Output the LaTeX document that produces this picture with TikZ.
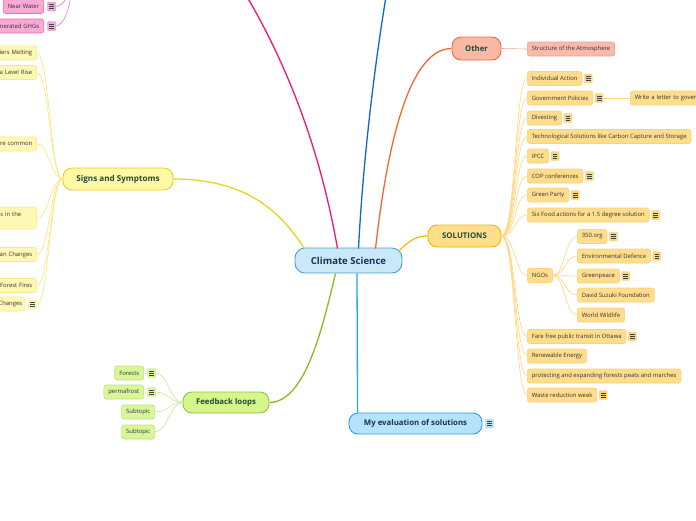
\documentclass[tikz,border=0pt]{standalone}
\usepackage{fontspec}
\setmainfont{Open Sans}
\usetikzlibrary{calc}
\definecolor{txt}{HTML}{333333}
\definecolor{navy}{HTML}{1B2F5C}
\definecolor{dgreen}{HTML}{1E4A3A}
\definecolor{cfill}{HTML}{C9E8F8}
\definecolor{cborder}{HTML}{4A9FD8}
\definecolor{yfill}{HTML}{FFF8A4}
\definecolor{yborder}{HTML}{E8D21A}
\definecolor{ycfill}{HTML}{FFF8B4}
\definecolor{ycborder}{HTML}{F6EA88}
\definecolor{yline}{HTML}{F6E878}
\definecolor{ofill}{HTML}{F9B8A4}
\definecolor{oborder}{HTML}{EE6A48}
\definecolor{ocfill}{HTML}{F8BAAA}
\definecolor{ocborder}{HTML}{F3A08E}
\definecolor{oline}{HTML}{F5A39A}
\definecolor{sfill}{HTML}{FFDF8C}
\definecolor{sborder}{HTML}{F6B500}
\definecolor{scfill}{HTML}{FEDD8C}
\definecolor{scborder}{HTML}{FBD27A}
\definecolor{sicon}{HTML}{FDD67A}
\definecolor{sline}{HTML}{FFD57E}
\definecolor{gfill}{HTML}{D6F68C}
\definecolor{gborder}{HTML}{8CC63E}
\definecolor{gcfill}{HTML}{D9F69A}
\definecolor{gcborder}{HTML}{BEE37C}
\definecolor{gline}{HTML}{C8E88E}
\definecolor{bfill}{HTML}{B4E3FA}
\definecolor{bborder}{HTML}{22A6E6}
\definecolor{pfill}{HTML}{F9A9D6}
\definecolor{pborder}{HTML}{F06AB4}
\definecolor{pline}{HTML}{F77DC2}
\definecolor{mpink}{HTML}{F0167C}
\definecolor{mblue}{HTML}{1366CC}
\definecolor{morange}{HTML}{F2692E}
\definecolor{myellow}{HTML}{EAD31E}
\definecolor{msol}{HTML}{F8BA1E}
\definecolor{mgreen}{HTML}{86BE1A}
\definecolor{mlblue}{HTML}{1EAAF0}
\begin{document}
\begin{tikzpicture}[x=1pt,y=-1pt,
  mainbox/.style n args={3}{draw=#2, fill=#1, text=#3, line width=0.9pt, inner sep=0pt,
     font=\bfseries\fontsize{7.8}{9}\selectfont},
  childbox/.style 2 args={draw=#2, fill=#1, text=txt, rounded corners=2.5pt, line width=0.6pt,
     minimum height=14pt, inner xsep=4.5pt, inner ysep=0pt, font=\fontsize{5.9}{7.4}\selectfont},
  sch/.style={childbox={scfill}{scborder}, anchor=west},
  ych/.style={childbox={ycfill}{ycborder}, anchor=east, align=right},
  gch/.style={childbox={gcfill}{gcborder}, anchor=east},
  pch/.style={childbox={pfill}{pborder}, anchor=east, align=right},
  icon/.style 2 args={draw=#2, fill=#1, minimum width=8pt, minimum height=9pt, inner sep=0pt,
     rounded corners=1pt, line width=0.4pt,
     path picture={\foreach \dy in {-2,0,2}{\draw[line width=0.5pt, black!75]
       ($(path picture bounding box.center)+(-2.3,\dy)$) -- ++(4.6,0);}}},
  sicn/.style={icon={sicon}{scborder}},
  yicn/.style={icon={ycfill}{ycborder}},
  gicn/.style={icon={gcfill}{gcborder}},
  picn/.style={icon={pfill}{pborder}},
  bicn/.style={icon={bfill}{bborder!50}},
  mline/.style={line width=1.3pt},
  cline/.style={line width=0.6pt}]
\useasboundingbox (0,0) rectangle (696,520);
\fill[white] (0,0) rectangle (696,520);

% ---------- main nodes ----------
\node[mainbox={cfill}{cborder}{navy}, minimum width=107pt, minimum height=25pt, rounded corners=10pt,
  font=\bfseries\fontsize{9.6}{11}\selectfont] (cs) at (348.5,260.5) {Climate Science};
\node[mainbox={yfill}{yborder}{dgreen}, minimum width=110pt, minimum height=22pt, rounded corners=9pt,
  font=\bfseries\fontsize{8.1}{10}\selectfont] (ss) at (118,179) {Signs and Symptoms};
\node[mainbox={ofill}{oborder}{dgreen}, minimum width=49pt, minimum height=23pt, rounded corners=9pt] (oth) at (476.5,48.5) {Other};
\node[mainbox={sfill}{sborder}{dgreen}, minimum width=73pt, minimum height=22pt, rounded corners=9pt] (sol) at (464.5,236) {SOLUTIONS};
\node[mainbox={gfill}{gborder}{dgreen}, minimum width=86pt, minimum height=21pt, rounded corners=9pt] (fb) at (226,402.5) {Feedback loops};
\node[mainbox={bfill}{bborder}{navy}, minimum width=133pt, minimum height=21pt, rounded corners=9pt] (me) at (415.5,423.5) {My evaluation of solutions};
\node[bicn] (mei) at ($(me.east)+(7,0)$) {};

% ---------- main branches ----------
\coordinate (ptop) at (240,-15);
\coordinate (btop) at (388,-15);
\draw[mline, mpink] ($(cs.north)+(-11,1)$) .. controls (322,160) and (292,70) .. (ptop);
\draw[mline, mblue] ($(cs.north)+(10,1)$) .. controls (363,160) and (375,60) .. (btop);
\draw[mline, morange] ($(cs.north)+(27,1)$) .. controls (390,120) and (415,48.5) .. (oth.west);
\draw[mline, msol] ($(cs.east)+(-4,-9)$) .. controls (410,240) and (416,236) .. (sol.west);
\draw[mline, myellow] (ss.east) .. controls (255,179) and (285,220) .. ($(cs.north west)+(10,1)$);
\draw[mline, mgreen] ($(cs.south)+(-13,0)$) .. controls (322,330) and (305,402) .. (fb.east);
\draw[mline, mlblue] ($(cs.south)+(8.5,0)$) -- ($(me.north west)+(9,0)$);

% ---------- Other ----------
\node[childbox={ocfill}{ocborder}, anchor=west] (st) at (527,49) {Structure of the Atmosphere};
\draw[cline, oline] (oth.east) -- (st.west);

% ---------- SOLUTIONS children ----------
\node[sch] (ia) at (527,78.5) {Individual Action};
\node[sicn] (iai) at ($(ia.east)+(6,0)$) {};
\node[sch] (gp) at (527,98) {Government Policies};
\node[sicn] (gpi) at ($(gp.east)+(6,0)$) {};
\node[childbox={scfill}{scborder}, anchor=west, text width=64pt, align=left] (wl) at (630,98) {Write a letter to gover};
\node[sch] (dv) at (527,118) {Divesting};
\node[sicn] (dvi) at ($(dv.east)+(6,0)$) {};
\node[sch] (ts) at (527,136.5) {Technological Solutions like Carbon Capture and Storage};
\node[sch] (ip) at (527,156) {IPCC};
\node[sicn] (ipi) at ($(ip.east)+(6,0)$) {};
\node[sch] (cop) at (527,176) {COP conferences};
\node[sicn] (copi) at ($(cop.east)+(6,0)$) {};
\node[sch] (gpa) at (527,195) {Green Party};
\node[sicn] (gpai) at ($(gpa.east)+(6,0)$) {};
\node[sch] (sf) at (527,215) {Six Food actions for a 1.5 degree solution};
\node[sicn] (sfi) at ($(sf.east)+(6,0)$) {};
\node[sch] (ngo) at (527,275.5) {NGOs};
\node[sch] (ff) at (527,336.5) {Fare free public transit in Ottawa};
\node[sicn] (ffi) at ($(ff.east)+(6,0)$) {};
\node[sch] (re) at (527,356) {Renewable Energy};
\node[sch] (pe) at (527,376) {protecting and expanding forests peats and marches};
\node[sch] (wr) at (527,395) {Waste reduction week};
\node[sicn] (wri) at ($(wr.east)+(6,0)$) {};

\foreach \n in {ia,gp,dv,ts,ip,cop,gpa,sf,ngo,ff,re,pe,wr}{
  \draw[cline, sline] (sol.east) .. controls +(14,0) and +(-12,0) .. (\n.west);}
\draw[cline, sline] (gpi.east) -- (wl.west);

% NGO children
\node[sch] (n1) at (577,236.5) {350.org};
\node[sicn] (n1i) at ($(n1.east)+(6,0)$) {};
\node[sch] (n2) at (577,256) {Environmental Defence};
\node[sicn] (n2i) at ($(n2.east)+(6,0)$) {};
\node[sch] (n3) at (577,276) {Greenpeace};
\node[sicn] (n3i) at ($(n3.east)+(6,0)$) {};
\node[sch] (n4) at (577,295) {David Suzuki Foundation};
\node[sch] (n5) at (577,315) {World Wildlife};
\foreach \n in {n1,n2,n3,n4,n5}{
  \draw[cline, sline] (ngo.east) .. controls +(12,0) and +(-12,0) .. (\n.west);}

% ---------- Signs and Symptoms children ----------
\node[ych, text width=60pt] (s1) at (37,53) {iers Melting};
\node[ych, text width=60pt] (s2) at (37,72.5) {a Level Rise};
\node[ych, text width=60pt] (s3) at (37,144) {re common};
\node[ych, text width=60pt, minimum height=22pt] (s4) at (37,218) {s in the\rule{11pt}{0pt}\\[1pt]\mbox{}};
\node[ych, text width=60pt] (s5) at (37,254.5) {an Changes};
\node[ych, text width=60pt] (s6) at (37,285.5) {Forest Fires};
\node[ych, text width=50pt, inner xsep=2.5pt] (s7) at (25,304) {Changes};
\node[yicn] (s7i) at (32.5,304.5) {};
\foreach \n in {s1,s2,s3,s4,s5,s6,s7i}{
  \draw[cline, yline] (\n.east) .. controls +(12,0) and +(-12,0) .. (ss.west);}

% ---------- Feedback children ----------
\node[gch] (f1) at (144,373) {Forests};
\node[gicn] (f1i) at (151.5,373) {};
\node[gch] (f2) at (144,392) {permafrost};
\node[gicn] (f2i) at (151.5,392) {};
\node[gch] (f3) at (155,412) {Subtopic};
\node[gch] (f4) at (155,432) {Subtopic};
\foreach \n in {f1i,f2i,f3,f4}{
  \draw[cline, gline] (\n.east) .. controls +(12,0) and +(-12,0) .. (fb.west);}

% ---------- pink children ----------
\coordinate (ph) at (72,-20);
\node[pch] (p1) at (44,6.5) {Near Water};
\node[picn] (p1i) at (51.5,6.5) {};
\node[pch, text width=48pt] (p2) at (44,26) {nerated GHGs};
\node[picn] (p2i) at (51.5,26) {};
\draw[cline, pline] (p1i.east) .. controls +(8,0) and +(0,12) .. (ph);
\draw[cline, pline] (p2i.east) .. controls +(10,0) and +(0,20) .. (ph);
\end{tikzpicture}
\end{document}
